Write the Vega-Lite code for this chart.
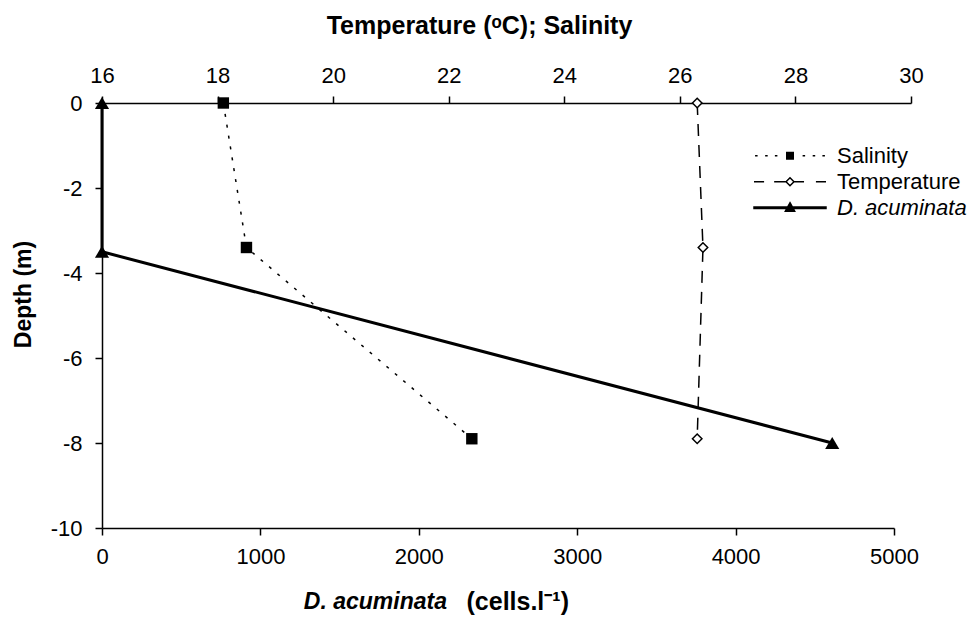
{
  "$schema": "https://vega.github.io/schema/vega-lite/v6.json",
  "width": 809,
  "height": 425,
  "autosize": {"type": "none"},
  "padding": {"left": 102, "top": 103, "right": 63, "bottom": 98},
  "background": "white",
  "data": {
    "values": [
      {"series": "Salinity", "depth": 0, "value": 18.1},
      {"series": "Salinity", "depth": -3.4, "value": 18.5},
      {"series": "Salinity", "depth": -7.9, "value": 22.4},
      {"series": "Temperature", "depth": 0, "value": 26.3},
      {"series": "Temperature", "depth": -3.4, "value": 26.4},
      {"series": "Temperature", "depth": -7.9, "value": 26.3},
      {"series": "D. acuminata", "depth": 0, "value": 0},
      {"series": "D. acuminata", "depth": -3.5, "value": 0},
      {"series": "D. acuminata", "depth": -8, "value": 4610}
    ]
  },
  "title": {
    "text": "D. acuminata",
    "orient": "bottom",
    "anchor": "start",
    "frame": "group",
    "align": "right",
    "baseline": "alphabetic",
    "dx": 345,
    "dy": -5,
    "offset": 0,
    "font": "Liberation Sans",
    "fontSize": 23,
    "fontWeight": "bold",
    "fontStyle": "italic",
    "color": "black"
  },
  "encoding": {
    "y": {
      "field": "depth",
      "type": "quantitative",
      "scale": {"domain": [-10, 0], "nice": false, "zero": false},
      "axis": {
        "values": [-10, -8, -6, -4, -2, 0],
        "labelExpr": "'' + datum.value",
        "labelPadding": 13,
        "title": "Depth (m)",
        "titleAngle": 270,
        "titleAlign": "center",
        "titleBaseline": "alphabetic",
        "titleX": -72,
        "titleY": 191
      }
    }
  },
  "layer": [
    {
      "transform": [{"filter": "datum.series !== 'D. acuminata'"}],
      "encoding": {
        "x": {
          "field": "value",
          "type": "quantitative",
          "scale": {"domain": [16, 30], "nice": false, "zero": false},
          "axis": {
            "orient": "top",
            "values": [16, 18, 20, 22, 24, 26, 28, 30],
            "format": "d",
            "labelPadding": 9,
            "title": "Temperature (ᵒC); Salinity",
            "titleFontSize": 25,
            "titleAlign": "center",
            "titleBaseline": "alphabetic",
            "titleX": 377,
            "titleY": -70
          }
        }
      },
      "layer": [
        {
          "mark": {"type": "line", "color": "black", "strokeWidth": 1.5},
          "encoding": {
            "strokeDash": {
              "field": "series",
              "type": "nominal",
              "scale": {"domain": ["Salinity", "Temperature"], "range": [[3, 8], [12, 9]]},
              "legend": null
            },
            "order": {"field": "depth", "sort": "descending"}
          }
        },
        {
          "transform": [{"filter": "datum.series === 'Salinity'"}],
          "mark": {"type": "point", "shape": "square", "filled": true, "color": "black", "opacity": 1, "size": 130}
        },
        {
          "transform": [{"filter": "datum.series === 'Temperature'"}],
          "mark": {"type": "point", "shape": "diamond", "fill": "white", "stroke": "black", "strokeWidth": 1.5, "opacity": 1, "size": 90}
        },
        {
          "transform": [{"filter": "false"}],
          "mark": {"type": "point", "filled": true, "strokeWidth": 1.5, "opacity": 1},
          "encoding": {
            "shape": {
              "field": "series",
              "type": "nominal",
              "scale": {
                "domain": ["Salinity", "Temperature", "D. acuminata"],
                "range": [
                  "M-0.97,0h0.07M-0.69,0h0.07M-0.42,0h0.07M0.35,0h0.07M0.63,0h0.07M0.9,0h0.07M-0.09,-0.09h0.18v0.18h-0.18z",
                  "M-1,0H-0.72M-0.44,0H-0.11M0.11,0H0.39M0.72,0H1M0,-0.11L0.11,0L0,0.11L-0.11,0Z",
                  "M-1,-0.02H1V0.02H-1ZM0,-0.14L0.13,0.1L-0.13,0.1Z"
                ]
              },
              "legend": {
                "orient": "none",
                "legendX": 651,
                "legendY": 40,
                "title": null,
                "padding": 0,
                "symbolSize": 5184,
                "symbolStrokeWidth": 1.5,
                "symbolOpacity": 1,
                "clipHeight": 25.5,
                "rowPadding": 0,
                "labelOffset": 10,
                "labelFont": "Liberation Sans",
                "labelFontSize": 22,
                "labelColor": "black",
                "labelLimit": 300,
                "labelFontStyle": {"expr": "datum.value === 'D. acuminata' ? 'italic' : 'normal'"}
              }
            },
            "fill": {
              "field": "series",
              "type": "nominal",
              "scale": {"domain": ["Salinity", "Temperature", "D. acuminata"], "range": ["black", "white", "black"]}
            },
            "stroke": {
              "field": "series",
              "type": "nominal",
              "scale": {"domain": ["Salinity", "Temperature", "D. acuminata"], "range": ["black", "black", "black"]}
            }
          }
        }
      ]
    },
    {
      "transform": [{"filter": "datum.series === 'D. acuminata'"}],
      "encoding": {
        "x": {
          "field": "value",
          "type": "quantitative",
          "scale": {"domain": [0, 5000], "nice": false, "zero": false, "range": [0, 792]},
          "axis": {
            "orient": "bottom",
            "values": [0, 1000, 2000, 3000, 4000, 5000],
            "format": "d",
            "labelPadding": 11,
            "title": "(cells.l⁻¹)",
            "titleFontSize": 25,
            "titleAlign": "left",
            "titleBaseline": "alphabetic",
            "titleX": 364,
            "titleY": 81
          }
        }
      },
      "layer": [
        {
          "mark": {"type": "line", "color": "black", "strokeWidth": 3},
          "encoding": {
            "order": {"field": "depth", "sort": "descending"}
          }
        },
        {
          "mark": {"type": "point", "shape": "triangle-up", "filled": true, "opacity": 1, "color": "black", "size": 200}
        }
      ]
    }
  ],
  "resolve": {"scale": {"x": "independent"}},
  "config": {
    "view": {"stroke": null},
    "axis": {
      "grid": false,
      "domainColor": "black",
      "tickColor": "black",
      "labelColor": "black",
      "titleColor": "black",
      "labelFont": "Liberation Sans",
      "titleFont": "Liberation Sans",
      "labelFontSize": 22,
      "titleFontSize": 23,
      "titleFontWeight": "bold",
      "tickSize": 7,
      "domainWidth": 1.5,
      "tickWidth": 1.5,
      "labelFlush": false,
      "labelOverlap": false
    }
  }
}
